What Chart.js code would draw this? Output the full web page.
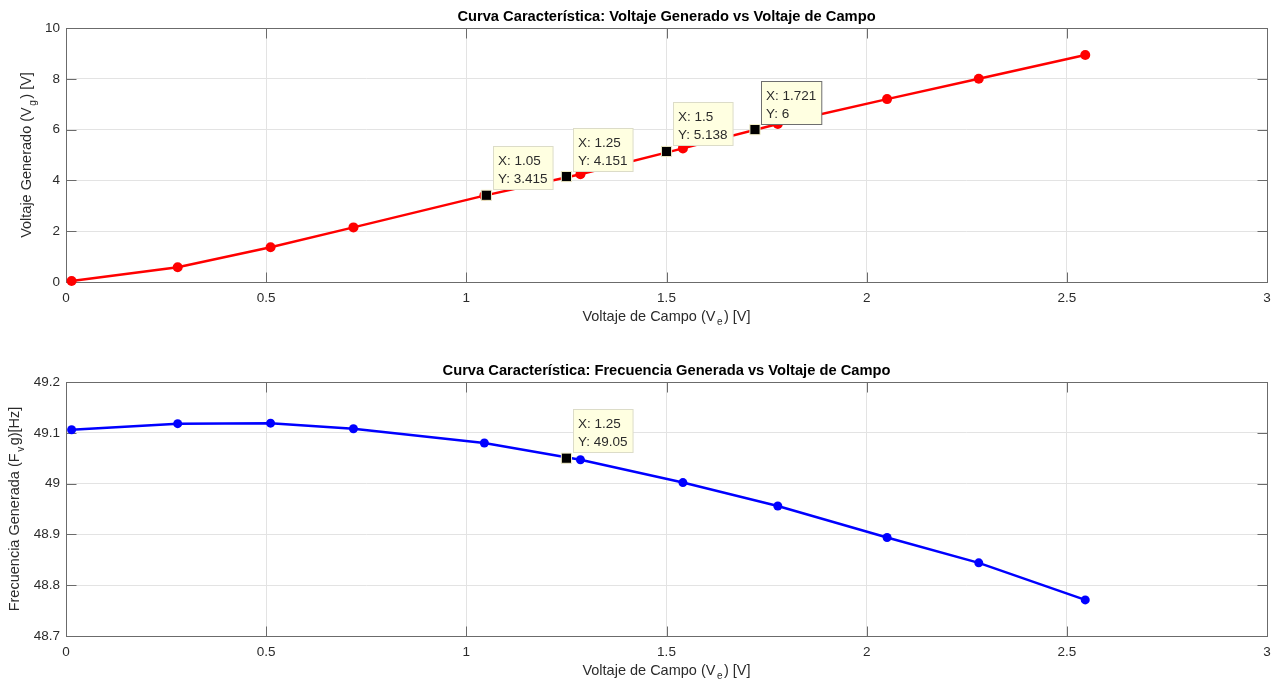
<!DOCTYPE html>
<html>
<head>
<meta charset="utf-8">
<title>Curvas características del generador</title>
<script src="https://cdn.jsdelivr.net/npm/chart.js@4/dist/chart.umd.min.js"></script>
<style>
  html, body { margin: 0; padding: 0; background: #ffffff; }
  #wrap { position: relative; width: 1285px; height: 687px; overflow: hidden; }
  canvas { position: absolute; left: 0; }
</style>
</head>
<body>
<div id="wrap">
  <canvas id="cVolt" width="1285" height="340" style="top:0px"></canvas>
  <canvas id="cFreq" width="1285" height="347" style="top:340px"></canvas>
</div>
<script>
// Field voltage Ve [V] (shared x values of both curves)
const campo = [0.014, 0.279, 0.511, 0.718, 1.045, 1.285, 1.541, 1.778, 2.051, 2.280, 2.546];
// Generated voltage Vg [V]
const voltajeGenerado = [0.04, 0.58, 1.37, 2.15, 3.40, 4.24, 5.26, 6.22, 7.20, 8.00, 8.94];
// Generated frequency [Hz]
const frecuenciaGenerada = [49.106, 49.118, 49.119, 49.108, 49.080, 49.047, 49.002, 48.956, 48.894, 48.844, 48.771];

// Data tips
const tipVoltX = [1.05, 1.25, 1.5, 1.721];
const tipVoltY = [3.415, 4.151, 5.138, 6];
const tipFreqX = [1.25];
const tipFreqY = [49.05];

// Tick values
const xTickValues = [0, 0.5, 1, 1.5, 2, 2.5, 3];
const voltTickValues = [0, 2, 4, 6, 8, 10];
const freqTickValues = [48.7, 48.8, 48.9, 49.0, 49.1, 49.2];

const FONT = '"Liberation Sans", Arial, Helvetica, sans-serif';
const TEXT_COLOR = '#2b2b2b';
const AXIS_COLOR = '#6b6b6b';
const GRID_COLOR = '#e3e3e3';

function fmt(v) { return String(+Number(v).toFixed(3)); }

// Draws a text made of normal and subscript runs, centred on (cx, cy)
function drawRich(ctx, parts, cx, cy, rotate, size) {
  ctx.save();
  ctx.translate(cx, cy);
  if (rotate) ctx.rotate(-Math.PI / 2);
  const mainFont = size + 'px ' + FONT;
  const subFont = Math.round(size * 0.72) + 'px ' + FONT;
  let total = 0;
  const widths = parts.map(p => {
    ctx.font = p.sub ? subFont : mainFont;
    const w = ctx.measureText(p.t).width + (p.sub ? 3 : 0);
    total += w;
    return w;
  });
  let x = -total / 2;
  ctx.textBaseline = 'middle';
  ctx.textAlign = 'left';
  ctx.fillStyle = TEXT_COLOR;
  parts.forEach((p, i) => {
    ctx.font = p.sub ? subFont : mainFont;
    ctx.fillText(p.t, x + (p.sub ? 1.5 : 0), p.sub ? size * 0.42 : 0);
    x += widths[i];
  });
  ctx.restore();
}

// Axes frame with inward ticks on all four sides, plus titles and data tips
function decorations(cfg) {
  return {
    id: 'decorations_' + cfg.id,
    beforeDatasetsDraw(chart) {
      const { ctx, chartArea: a, scales } = chart;
      const L = Math.round(a.left) + 0.5, R = Math.round(a.right) + 0.5;
      const T = Math.round(a.top) + 0.5, B = Math.round(a.bottom) + 0.5;
      const tl = 10;
      ctx.save();
      ctx.strokeStyle = AXIS_COLOR;
      ctx.lineWidth = 1;
      ctx.beginPath();
      xTickValues.forEach(v => {
        const px = Math.round(scales.x.getPixelForValue(v)) + 0.5;
        ctx.moveTo(px, B); ctx.lineTo(px, B - tl);
        ctx.moveTo(px, T); ctx.lineTo(px, T + tl);
      });
      cfg.yTicks.forEach(v => {
        const py = Math.round(scales.y.getPixelForValue(v)) + 0.5;
        ctx.moveTo(L, py); ctx.lineTo(L + tl, py);
        ctx.moveTo(R, py); ctx.lineTo(R - tl, py);
      });
      ctx.stroke();
      ctx.strokeRect(L, T, R - L, B - T);
      ctx.restore();
    },
    afterDraw(chart) {
      const { ctx, chartArea: a, scales } = chart;
      const cx = (a.left + a.right) / 2;
      // title
      ctx.save();
      ctx.font = 'bold 14.7px ' + FONT;
      ctx.fillStyle = '#000000';
      ctx.textAlign = 'center';
      ctx.textBaseline = 'middle';
      ctx.fillText(cfg.title, cx, a.top - 11.5);
      ctx.restore();
      // axis labels
      drawRich(ctx, [{ t: 'Voltaje de Campo (V' }, { t: 'e', sub: true }, { t: ') [V]' }],
        cx, a.bottom + 34.5, false, 14.5);
      drawRich(ctx, cfg.yLabel, cfg.yLabelX, (a.top + a.bottom) / 2, true, 14.5);
      // data tip boxes
      ctx.save();
      ctx.font = '13.5px ' + FONT;
      cfg.tipX.forEach((tx, i) => {
        const px = scales.x.getPixelForValue(tx);
        const py = scales.y.getPixelForValue(cfg.tipY[i]);
        const l1 = 'X: ' + fmt(tx), l2 = 'Y: ' + fmt(cfg.tipY[i]);
        const w = Math.max(ctx.measureText(l1).width, ctx.measureText(l2).width) + 10;
        const h = 43;
        const x0 = Math.round(px + 6.5) + 0.5;
        const y0 = Math.round(py - 6 - h) + 0.5;
        ctx.fillStyle = '#ffffe1';
        ctx.fillRect(x0, y0, w, h);
        ctx.strokeStyle = (cfg.selected === i) ? '#6e6e6e' : '#dcdcc8';
        ctx.lineWidth = 1;
        ctx.strokeRect(x0, y0, w, h);
        ctx.fillStyle = TEXT_COLOR;
        ctx.textAlign = 'left';
        ctx.textBaseline = 'middle';
        ctx.fillText(l1, x0 + 4.5, y0 + 15);
        ctx.fillText(l2, x0 + 4.5, y0 + 32.5);
      });
      ctx.restore();
    }
  };
}

function makeChart(cfg) {
  return new Chart(document.getElementById(cfg.id), {
    type: 'line',
    data: {
      datasets: [
        {
          label: 'tips',
          data: cfg.tipX.map((x, i) => ({ x, y: cfg.tipY[i] })),
          showLine: false,
          pointStyle: 'rect',
          pointRadius: 7.2,
          pointBackgroundColor: '#000000',
          pointBorderColor: '#f3efc9',
          pointBorderWidth: 1,
          clip: false
        },
        {
          label: cfg.title,
          data: campo.map((x, i) => ({ x, y: cfg.values[i] })),
          borderColor: cfg.color,
          backgroundColor: cfg.color,
          borderWidth: 2.5,
          pointRadius: cfg.pointRadius,
          pointBackgroundColor: cfg.color,
          pointBorderColor: cfg.color,
          pointBorderWidth: 0,
          tension: 0,
          clip: false
        }
      ]
    },
    options: {
      responsive: false,
      animation: false,
      devicePixelRatio: 1,
      events: [],
      layout: { padding: { left: 0, right: 18, top: cfg.top, bottom: 0 } },
      plugins: { legend: { display: false }, tooltip: { enabled: false }, title: { display: false } },
      scales: {
        x: {
          type: 'linear', min: 0, max: 3,
          afterBuildTicks: s => { s.ticks = xTickValues.map(v => ({ value: v })); },
          afterFit: s => { s.height = cfg.xHeight; },
          ticks: { autoSkip: false, maxRotation: 0, padding: 8, color: TEXT_COLOR,
                   font: { family: FONT, size: 13.5 }, callback: v => fmt(v) },
          grid: { color: GRID_COLOR, lineWidth: 1, drawTicks: false },
          border: { display: false }
        },
        y: {
          type: 'linear', min: cfg.yMin, max: cfg.yMax,
          afterBuildTicks: s => { s.ticks = cfg.yTicks.map(v => ({ value: v })); },
          afterFit: s => { s.width = 66; },
          ticks: { autoSkip: false, padding: 6, color: TEXT_COLOR,
                   font: { family: FONT, size: 13.5 }, callback: v => fmt(v) },
          grid: { color: GRID_COLOR, lineWidth: 1, drawTicks: false },
          border: { display: false }
        }
      }
    },
    plugins: [decorations(cfg)]
  });
}

makeChart({
  id: 'cVolt',
  title: 'Curva Característica: Voltaje Generado vs Voltaje de Campo',
  values: voltajeGenerado,
  color: '#ff0000',
  pointRadius: 5,
  yMin: 0, yMax: 10, yTicks: voltTickValues,
  tipX: tipVoltX, tipY: tipVoltY, selected: 3,
  top: 28, xHeight: 58,
  yLabel: [{ t: 'Voltaje Generado (V' }, { t: 'g', sub: true }, { t: ') [V]' }],
  yLabelX: 27
});

makeChart({
  id: 'cFreq',
  title: 'Curva Característica: Frecuencia Generada vs Voltaje de Campo',
  values: frecuenciaGenerada,
  color: '#0000ff',
  pointRadius: 4.5,
  yMin: 48.7, yMax: 49.2, yTicks: freqTickValues,
  tipX: tipFreqX, tipY: tipFreqY, selected: -1,
  top: 42, xHeight: 51,
  yLabel: [{ t: 'Frecuencia Generada (F' }, { t: 'v', sub: true }, { t: 'g)[Hz]' }],
  yLabelX: 15
});
</script>
</body>
</html>
